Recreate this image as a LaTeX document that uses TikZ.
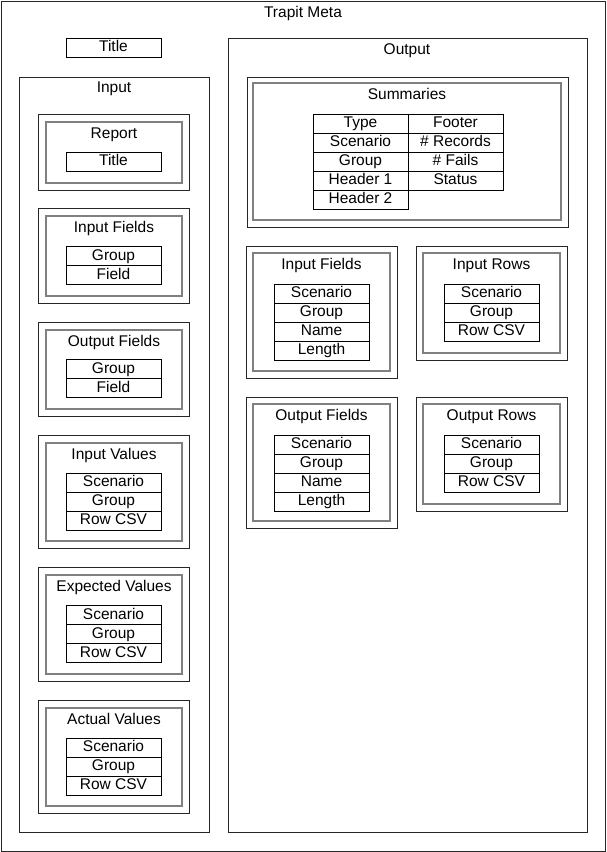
\documentclass[tikz,border=0pt]{standalone}
\usepackage{fontspec}
\setmainfont{Liberation Sans}

\tikzset{
  outerbox/.style={draw=black!85,line width=0.9pt},
  innerbox/.style={draw=black!50,line width=1.8pt},
  cell/.style={draw=black,line width=0.9pt,minimum width=95pt,minimum height=19pt,
               inner sep=0pt,text height=11pt,text depth=3pt},
  lbl/.style={inner sep=0pt,text height=11pt,text depth=3pt}
}

\begin{document}
\begin{tikzpicture}[x=1pt,y=-1pt,font=\fontsize{15.5}{18}\selectfont]
      \useasboundingbox (0,0) rectangle (606,852);

      % frame
      \draw[outerbox] (1,1) rectangle (605,851);
      \node[lbl] (meta) at (303,13) {Trapit Meta};
      \node[cell] (title) at (113.5,47.5) {Title};

      % input side
      \draw[outerbox] (19,77) rectangle (209,832);
      \node[lbl] (input) at (114,88) {Input};
      \foreach \top/\bot/\lab/\name in {114/190/Report/rep, 208/303/Input Fields/inf,
                                        322/416/Output Fields/outf, 435/548/Input Values/inv,
                                        567/681/Expected Values/expv, 700/813/Actual Values/actv}
      {
        \draw[outerbox] (38,\top) rectangle (189,\bot);
        \draw[innerbox] (46,\top+8) rectangle (182,\bot-7);
        \node[lbl] (\name) at (114,\top+20) {\lab};
      }
      \node[cell] (reptitle) at (113.5,161.5) {Title};
      \foreach \t [count=\i] in {Group,Field}
        \node[cell] (inf\i) at (113.5,256+19*\i-19) {\t};
      \foreach \t [count=\i] in {Group,Field}
        \node[cell] (outf\i) at (113.5,369+19*\i-19) {\t};
      \foreach \t [count=\i] in {Scenario,Group,Row CSV}
      {
        \node[cell] (inv\i) at (113.5,482.5+19*\i-19) {\t};
        \node[cell] (expv\i) at (113.5,615+19*\i-19) {\t};
        \node[cell] (actv\i) at (113.5,747.5+19*\i-19) {\t};
      }

      % output side
      \draw[outerbox] (228,38) rectangle (587,832);
      \node[lbl] (output) at (407,50) {Output};

      \draw[outerbox] (247,77) rectangle (568,227);
      \draw[innerbox] (253,83) rectangle (561,220);
      \node[lbl] (summ) at (407,95) {Summaries};
      \foreach \t [count=\i] in {Type,Scenario,Group,Header 1,Header 2}
        \node[cell] (sl\i) at (360.5,123.5+19*\i-19) {\t};
      \foreach \t [count=\i] in {Footer,\# Records,\# Fails,Status}
        \node[cell] (sr\i) at (455.5,123.5+19*\i-19) {\t};

      \foreach \x/\top/\bot/\lab/\name in {246/246/378/Input Fields/oinf, 416/246/360/Input Rows/oinr,
                                           246/397/528/Output Fields/ooutf, 416/397/511/Output Rows/ooutr}
      {
        \draw[outerbox] (\x,\top) rectangle (\x+151,\bot);
        \draw[innerbox] (\x+7,\top+7) rectangle (\x+144,\bot-7);
        \node[lbl] (\name) at (\x+75.5,\top+19) {\lab};
      }
      \foreach \t [count=\i] in {Scenario,Group,Name,Length}
      {
        \node[cell] (oinf\i) at (321.5,293.5+19*\i-19) {\t};
        \node[cell] (ooutf\i) at (321.5,444.5+19*\i-19) {\t};
      }
      \foreach \t [count=\i] in {Scenario,Group,Row CSV}
      {
        \node[cell] (oinr\i) at (491.5,293.5+19*\i-19) {\t};
        \node[cell] (ooutr\i) at (491.5,444.5+19*\i-19) {\t};
      }
\end{tikzpicture}
\end{document}
